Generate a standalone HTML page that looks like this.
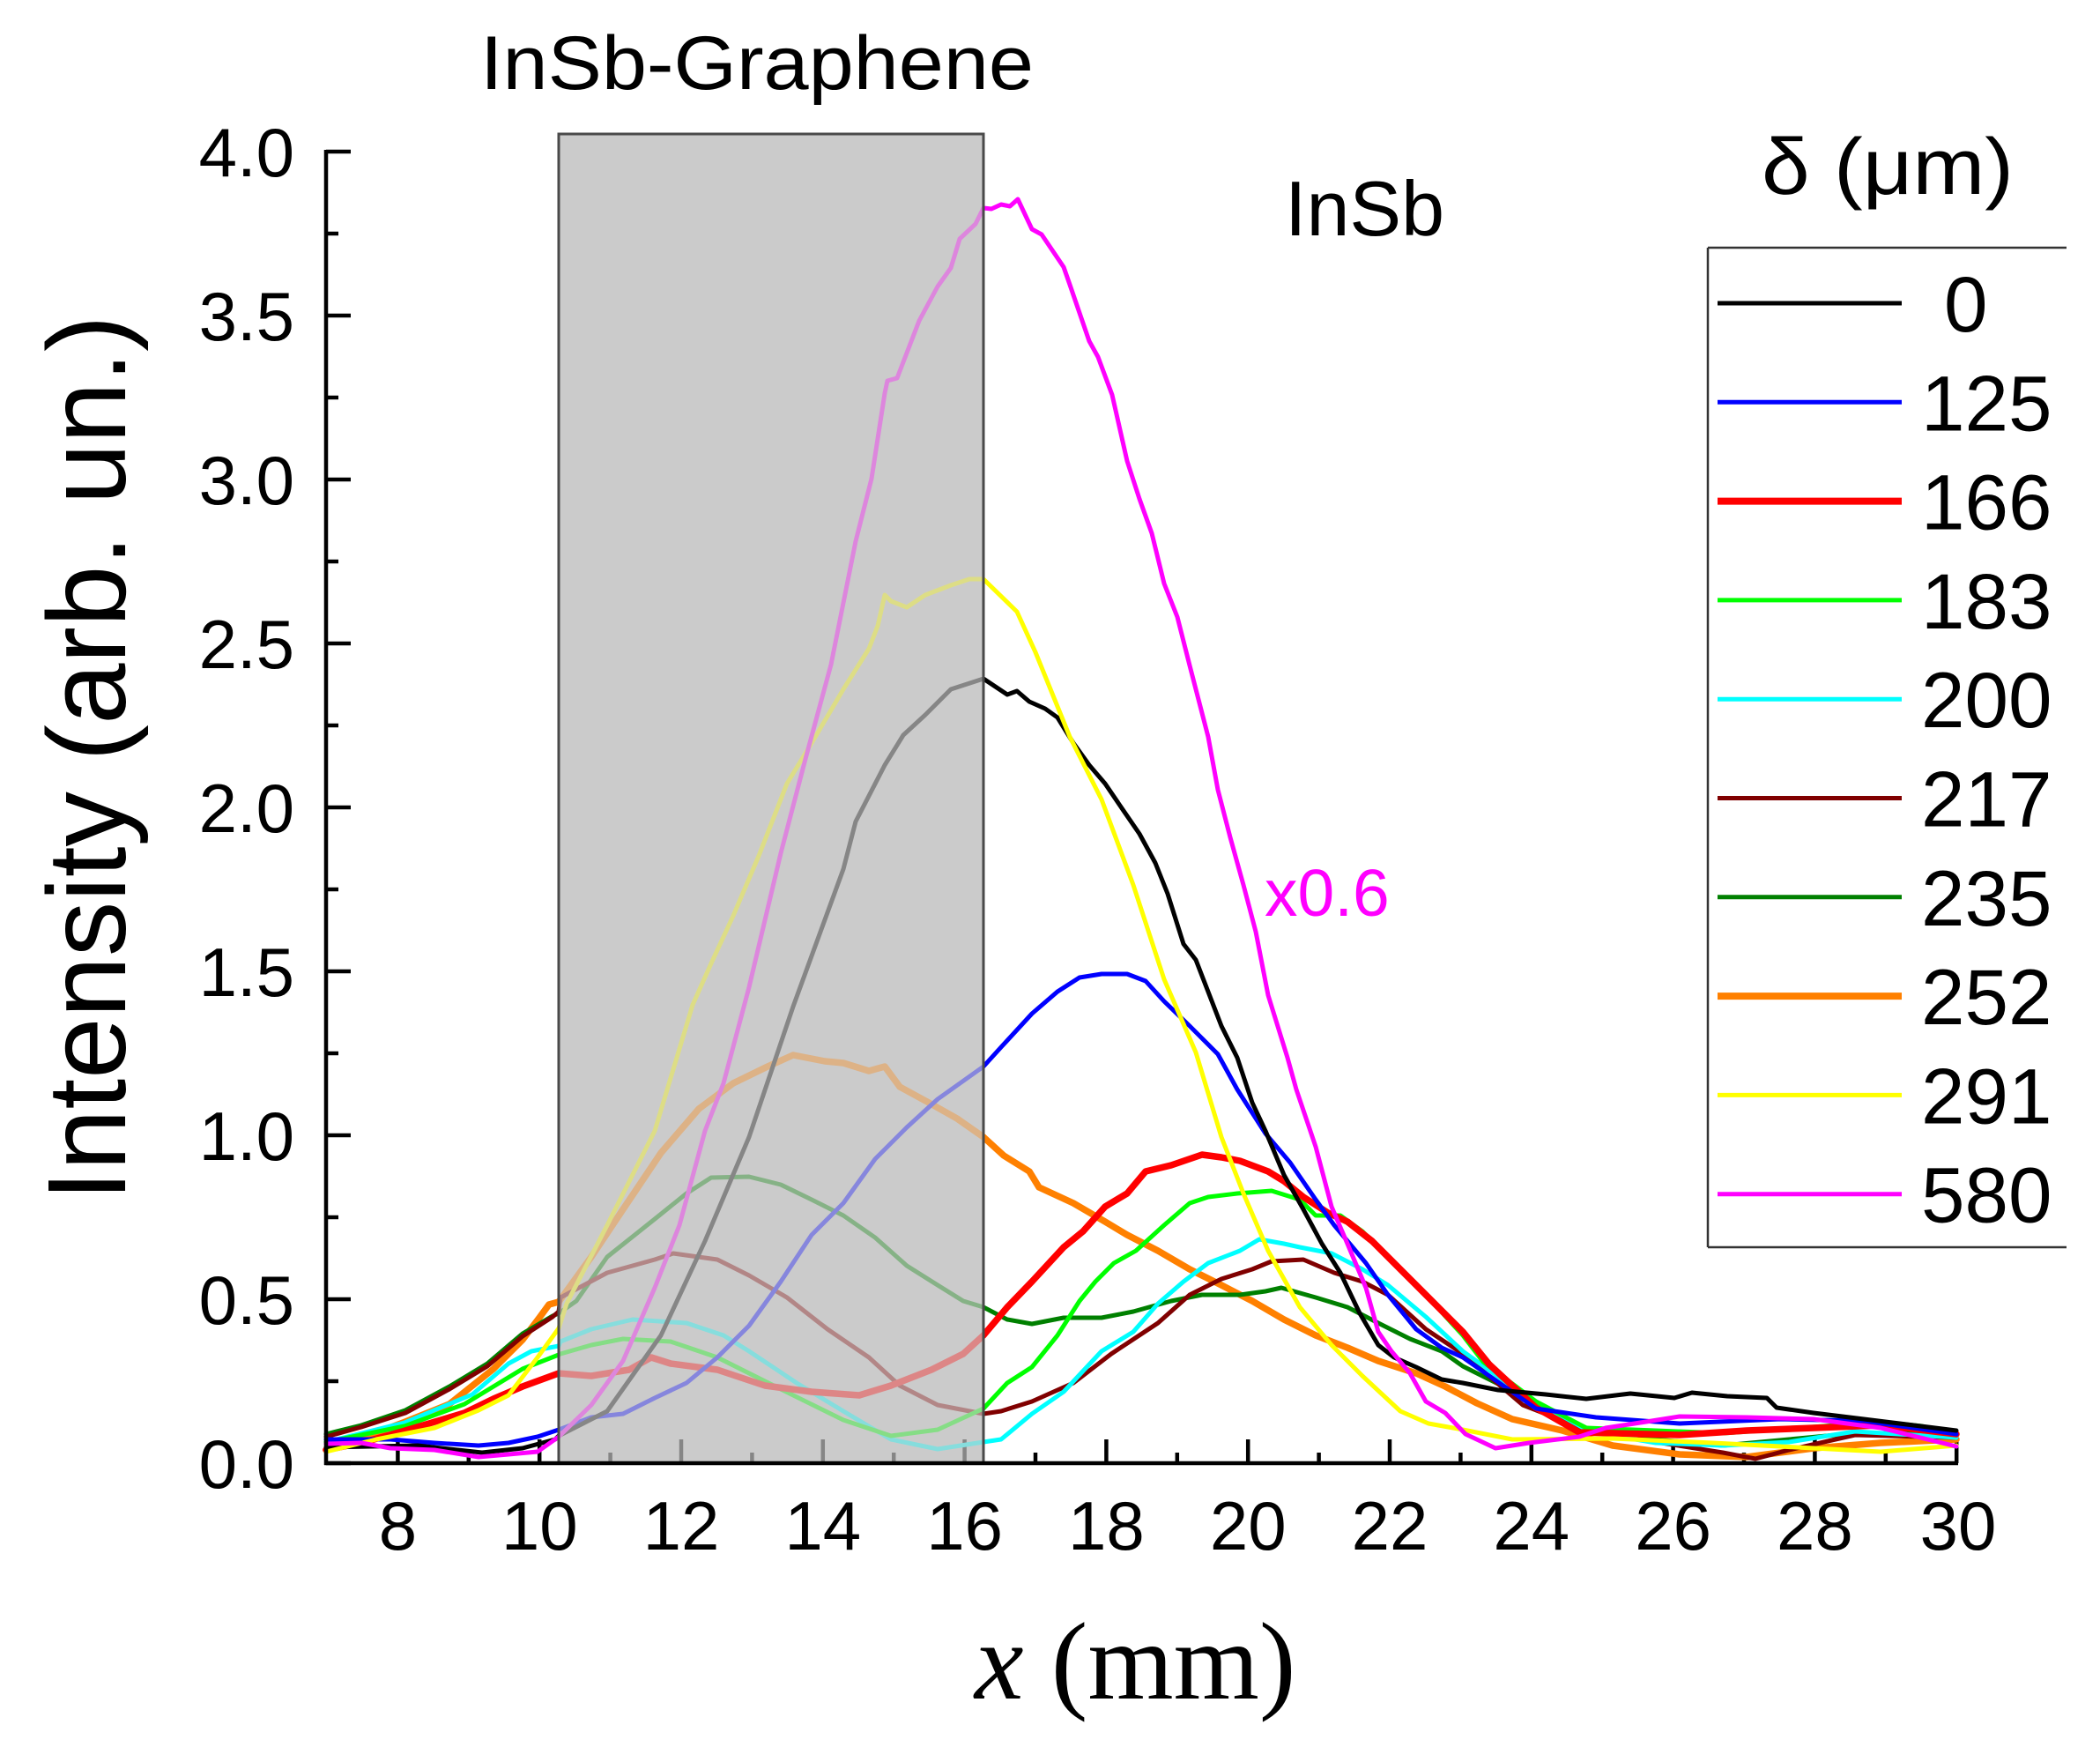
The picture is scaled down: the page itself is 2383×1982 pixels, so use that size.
<!DOCTYPE html>
<html>
<head>
<meta charset="utf-8">
<style>
  html, body { margin:0; padding:0; background:#ffffff; }
  svg { display:block; }
  text { font-family: "Liberation Sans", Arial, sans-serif; fill:#000; }
</style>
</head>
<body>
<svg width="2383" height="1982" viewBox="0 0 2383 1982" xmlns="http://www.w3.org/2000/svg">
  <rect x="0" y="0" width="2383" height="1982" fill="#ffffff"/>

  <!-- shaded region background -->
  <rect x="634" y="152" width="482" height="1508" fill="#cbcbcb"/>

  <!-- ticks (y axis, pointing inward) -->
  <g stroke="#000" stroke-width="4.5">
    <line x1="370" y1="1660" x2="398" y2="1660"/>
    <line x1="370" y1="1474" x2="398" y2="1474"/>
    <line x1="370" y1="1288" x2="398" y2="1288"/>
    <line x1="370" y1="1102" x2="398" y2="1102"/>
    <line x1="370" y1="916" x2="398" y2="916"/>
    <line x1="370" y1="730" x2="398" y2="730"/>
    <line x1="370" y1="544" x2="398" y2="544"/>
    <line x1="370" y1="358" x2="398" y2="358"/>
    <line x1="370" y1="172" x2="398" y2="172"/>
    <line x1="370" y1="1567" x2="384" y2="1567"/>
    <line x1="370" y1="1381" x2="384" y2="1381"/>
    <line x1="370" y1="1195" x2="384" y2="1195"/>
    <line x1="370" y1="1009" x2="384" y2="1009"/>
    <line x1="370" y1="823" x2="384" y2="823"/>
    <line x1="370" y1="637" x2="384" y2="637"/>
    <line x1="370" y1="451" x2="384" y2="451"/>
    <line x1="370" y1="265" x2="384" y2="265"/>
  </g>
  <!-- x ticks -->
  <g stroke="#000" stroke-width="4.5">
    <line x1="451.4" y1="1660" x2="451.4" y2="1633"/>
    <line x1="612.2" y1="1660" x2="612.2" y2="1633"/>
    <line x1="773" y1="1660" x2="773" y2="1633"/>
    <line x1="933.8" y1="1660" x2="933.8" y2="1633"/>
    <line x1="1094.6" y1="1660" x2="1094.6" y2="1633"/>
    <line x1="1255.4" y1="1660" x2="1255.4" y2="1633"/>
    <line x1="1416.2" y1="1660" x2="1416.2" y2="1633"/>
    <line x1="1577" y1="1660" x2="1577" y2="1633"/>
    <line x1="1737.8" y1="1660" x2="1737.8" y2="1633"/>
    <line x1="1898.6" y1="1660" x2="1898.6" y2="1633"/>
    <line x1="2059.4" y1="1660" x2="2059.4" y2="1633"/>
    <line x1="2220.2" y1="1660" x2="2220.2" y2="1633"/>
    <line x1="531.8" y1="1660" x2="531.8" y2="1648"/>
    <line x1="692.6" y1="1660" x2="692.6" y2="1648"/>
    <line x1="853.4" y1="1660" x2="853.4" y2="1648"/>
    <line x1="1014.2" y1="1660" x2="1014.2" y2="1648"/>
    <line x1="1175" y1="1660" x2="1175" y2="1648"/>
    <line x1="1335.8" y1="1660" x2="1335.8" y2="1648"/>
    <line x1="1496.6" y1="1660" x2="1496.6" y2="1648"/>
    <line x1="1657.4" y1="1660" x2="1657.4" y2="1648"/>
    <line x1="1818.2" y1="1660" x2="1818.2" y2="1648"/>
    <line x1="1979" y1="1660" x2="1979" y2="1648"/>
    <line x1="2139.8" y1="1660" x2="2139.8" y2="1648"/>
  </g>

  <!-- data curves -->
  <g fill="none" stroke-linejoin="round" stroke-linecap="round">
    <!-- 252 orange -->
    <polyline stroke="#ff8000" stroke-width="7.5" points="370,1645 410,1632 460,1613 510,1593 560,1553 593,1520 612,1495 623,1480 634,1477 671,1426 707,1372 750,1308 793,1258 832,1229 871,1210 900,1197 936,1204 957,1206 986,1215 1004,1210 1021,1233 1054,1251 1086,1269 1116,1290 1139,1311 1168,1329 1179,1347 1218,1365 1254,1386 1279,1401 1314,1419 1350,1440 1386,1458 1421,1476 1457,1497 1493,1515 1529,1529 1564,1544 1607,1558 1640,1573 1676,1592 1716,1610 1773,1623 1830,1640 1906,1650 1982,1653 2058,1643 2134,1637 2220,1633"/>
    <!-- 235 dark green -->
    <polyline stroke="#008000" stroke-width="5" points="370,1627 410,1617 460,1600 510,1573 553,1547 593,1513 627,1493 634,1490 654,1476 689,1426 743,1383 779,1354 807,1336 850,1335 886,1344 921,1361 957,1379 993,1404 1029,1436 1064,1458 1093,1476 1116,1483 1143,1497 1171,1502 1207,1495 1250,1495 1286,1488 1329,1476 1364,1469 1407,1469 1436,1465 1454,1461 1493,1472 1529,1483 1564,1501 1600,1519 1636,1533 1660,1550 1728,1584 1800,1620 1879,1633 1955,1640 2030,1633 2105,1626 2220,1626"/>
    <!-- 217 dark red -->
    <polyline stroke="#800000" stroke-width="5" points="370,1630 410,1619 460,1603 510,1576 553,1550 593,1516 627,1494 634,1488 636,1472 657,1461 689,1444 743,1429 764,1422 814,1429 850,1447 893,1472 939,1508 986,1540 1021,1572 1064,1594 1116,1604 1136,1601 1171,1590 1218,1569 1261,1536 1314,1501 1350,1469 1386,1451 1421,1440 1443,1431 1479,1429 1514,1444 1546,1454 1575,1469 1618,1508 1660,1536 1728,1594 1800,1622 1879,1636 1955,1648 1992,1655 2030,1645 2105,1628 2220,1631"/>
    <!-- 200 cyan -->
    <polyline stroke="#00ffff" stroke-width="5" points="370,1636 459,1614 536,1582 577,1547 603,1533 634,1527 636,1522 671,1508 718,1497 779,1501 821,1515 850,1533 904,1569 957,1601 1011,1633 1064,1644 1116,1636 1136,1633 1171,1604 1207,1579 1250,1533 1286,1511 1314,1479 1343,1454 1371,1433 1407,1419 1429,1406 1457,1411 1475,1415 1511,1422 1546,1440 1575,1458 1618,1494 1660,1533 1728,1582 1804,1624 1879,1637 1955,1640 2030,1636 2105,1624 2220,1631"/>
    <!-- 183 green -->
    <polyline stroke="#00ff00" stroke-width="5" points="370,1636 459,1618 527,1593 560,1573 593,1553 634,1537 636,1536 671,1526 707,1519 761,1522 814,1540 886,1576 957,1611 1011,1629 1064,1622 1116,1598 1143,1569 1171,1551 1200,1515 1225,1476 1243,1454 1264,1433 1289,1419 1321,1390 1350,1365 1371,1358 1404,1354 1443,1351 1475,1361 1493,1379 1521,1379 1546,1397 1582,1433 1618,1469 1660,1515 1683,1545 1743,1590 1800,1620 1879,1623 1955,1626 2030,1621 2134,1613 2181,1618 2220,1627"/>
    <!-- 166 red -->
    <polyline stroke="#ff0000" stroke-width="7.5" points="370,1645 410,1637 460,1623 527,1603 560,1587 593,1573 634,1558 671,1561 714,1554 739,1540 761,1547 814,1554 868,1572 921,1579 975,1583 1011,1572 1057,1554 1093,1536 1116,1515 1143,1483 1171,1454 1207,1415 1229,1397 1254,1369 1279,1354 1300,1329 1329,1322 1364,1310 1386,1313 1407,1317 1439,1329 1457,1340 1479,1358 1507,1376 1529,1386 1557,1408 1582,1433 1618,1469 1660,1511 1690,1548 1743,1597 1792,1625 1906,1628 1982,1623 2058,1620 2134,1617 2220,1627"/>
    <!-- 125 blue -->
    <polyline stroke="#0000ff" stroke-width="5" points="370,1633 443,1633 493,1637 543,1640 577,1637 610,1630 634,1622 671,1608 707,1604 743,1586 779,1569 814,1540 850,1504 886,1454 921,1401 957,1365 993,1315 1029,1279 1064,1247 1116,1210 1136,1188 1171,1150 1200,1125 1225,1109 1250,1105 1279,1105 1300,1113 1321,1136 1350,1164 1382,1196 1404,1236 1436,1286 1464,1319 1493,1361 1514,1390 1550,1433 1575,1469 1607,1508 1636,1529 1660,1540 1743,1598 1811,1608 1906,1615 2020,1610 2115,1612 2220,1627"/>
    <!-- 0 black -->
    <polyline stroke="#000000" stroke-width="5" points="370,1642 474,1640 547,1648 593,1643 630,1633 634,1629 689,1601 750,1515 800,1408 850,1290 900,1142 957,986 971,932 1004,868 1025,834 1050,811 1079,782 1116,770 1143,788 1154,784 1168,796 1186,804 1200,814 1218,843 1236,868 1254,889 1271,914 1293,946 1311,979 1325,1014 1343,1071 1357,1089 1386,1164 1404,1200 1421,1251 1436,1283 1457,1333 1479,1372 1500,1411 1521,1444 1543,1490 1564,1526 1582,1540 1607,1551 1636,1565 1660,1569 1700,1577 1754,1582 1800,1587 1850,1581 1900,1586 1920,1580 1960,1584 2005,1586 2016,1597 2058,1603 2115,1610 2220,1623"/>
    <!-- 291 yellow -->
    <polyline stroke="#ffff00" stroke-width="5" points="370,1647 427,1633 493,1620 543,1600 577,1583 610,1540 634,1507 643,1479 689,1390 743,1283 786,1140 807,1093 832,1039 861,971 893,889 921,843 957,782 986,736 996,710 1004,675 1011,682 1029,689 1050,675 1079,664 1100,657 1116,657 1154,694 1175,740 1214,836 1250,907 1286,1004 1321,1111 1357,1194 1386,1290 1411,1354 1439,1419 1475,1483 1511,1526 1546,1561 1589,1601 1621,1615 1660,1622 1716,1633 1830,1632 1944,1637 2058,1643 2134,1647 2220,1640"/>
    <!-- 580 magenta -->
    <polyline stroke="#ff00ff" stroke-width="5" points="370,1638 410,1637 443,1643 493,1645 543,1653 577,1650 610,1647 634,1630 671,1594 707,1544 743,1461 771,1390 800,1283 821,1229 850,1120 886,968 914,861 943,754 971,614 989,543 1004,446 1007,432 1018,429 1043,364 1064,325 1079,304 1089,271 1107,254 1116,236 1125,237 1136,232 1146,234 1155,226 1171,260 1182,266 1207,303 1214,323 1236,387 1246,405 1262,448 1279,523 1293,566 1307,605 1321,662 1336,700 1350,755 1371,836 1382,896 1396,950 1411,1004 1425,1057 1439,1129 1461,1200 1471,1236 1493,1301 1511,1369 1529,1411 1550,1461 1564,1511 1579,1533 1600,1558 1618,1590 1640,1603 1663,1627 1697,1643 1735,1637 1792,1630 1822,1620 1868,1613 1906,1607 1982,1608 2058,1610 2134,1620 2220,1641"/>
  </g>

  <!-- dimming overlay on the shaded region -->
  <rect x="634" y="152" width="482" height="1508" fill="#cbcbcb" fill-opacity="0.66"/>
  <rect x="634" y="152" width="482" height="1508" fill="none" stroke="#4a4a4a" stroke-width="3"/>

  <!-- axes -->
  <line x1="370" y1="170" x2="370" y2="1662" stroke="#000" stroke-width="4.5"/>
  <line x1="368" y1="1660" x2="2222" y2="1660" stroke="#000" stroke-width="4.5"/>

  <!-- y tick labels -->
  <g font-size="78" text-anchor="end">
    <text x="334" y="1688">0.0</text>
    <text x="334" y="1502">0.5</text>
    <text x="334" y="1316">1.0</text>
    <text x="334" y="1130">1.5</text>
    <text x="334" y="944">2.0</text>
    <text x="334" y="758">2.5</text>
    <text x="334" y="572">3.0</text>
    <text x="334" y="386">3.5</text>
    <text x="334" y="200">4.0</text>
  </g>
  <!-- x tick labels -->
  <g font-size="78" text-anchor="middle">
    <text x="451.4" y="1758">8</text>
    <text x="612.2" y="1758">10</text>
    <text x="773" y="1758">12</text>
    <text x="933.8" y="1758">14</text>
    <text x="1094.6" y="1758">16</text>
    <text x="1255.4" y="1758">18</text>
    <text x="1416.2" y="1758">20</text>
    <text x="1577" y="1758">22</text>
    <text x="1737.8" y="1758">24</text>
    <text x="1898.6" y="1758">26</text>
    <text x="2059.4" y="1758">28</text>
    <text x="2222" y="1758">30</text>
  </g>

  <!-- axis titles -->
  <text transform="translate(142,860) rotate(-90)" text-anchor="middle" font-size="126" textLength="1005" lengthAdjust="spacingAndGlyphs">Intensity (arb. un.)</text>
  <text x="1106" y="1927" font-size="125" style="font-family:'Liberation Serif','Times New Roman',serif;"><tspan font-style="italic">x</tspan> (mm)</text>

  <!-- annotations -->
  <text x="545" y="101" font-size="86" textLength="628" lengthAdjust="spacingAndGlyphs">InSb-Graphene</text>
  <text x="1458" y="267" font-size="88">InSb</text>
  <text x="1435" y="1039" font-size="75" style="fill:#ff00ff">x0.6</text>

  <!-- legend -->
  <text x="1999" y="220" font-size="90" textLength="286" lengthAdjust="spacingAndGlyphs">δ (μm)</text>
  <g stroke="#333" stroke-width="2.5" fill="none">
    <line x1="1938" y1="281" x2="2345" y2="281"/>
    <line x1="1938" y1="281" x2="1938" y2="1415"/>
    <line x1="1938" y1="1415" x2="2345" y2="1415"/>
  </g>
  <g stroke-linecap="butt">
    <line x1="1949" y1="344" x2="2158" y2="344" stroke="#000000" stroke-width="5"/>
    <line x1="1949" y1="456.3" x2="2158" y2="456.3" stroke="#0000ff" stroke-width="5"/>
    <line x1="1949" y1="568.6" x2="2158" y2="568.6" stroke="#ff0000" stroke-width="8"/>
    <line x1="1949" y1="680.9" x2="2158" y2="680.9" stroke="#00ff00" stroke-width="5"/>
    <line x1="1949" y1="793.2" x2="2158" y2="793.2" stroke="#00ffff" stroke-width="5"/>
    <line x1="1949" y1="905.5" x2="2158" y2="905.5" stroke="#800000" stroke-width="5"/>
    <line x1="1949" y1="1017.8" x2="2158" y2="1017.8" stroke="#008000" stroke-width="5"/>
    <line x1="1949" y1="1130.1" x2="2158" y2="1130.1" stroke="#ff8000" stroke-width="8"/>
    <line x1="1949" y1="1242.4" x2="2158" y2="1242.4" stroke="#ffff00" stroke-width="5"/>
    <line x1="1949" y1="1354.7" x2="2158" y2="1354.7" stroke="#ff00ff" stroke-width="5"/>
  </g>
  <g font-size="89">
    <text x="2206" y="376">0</text>
    <text x="2180" y="488.3">125</text>
    <text x="2180" y="600.6">166</text>
    <text x="2180" y="712.9">183</text>
    <text x="2180" y="825.2">200</text>
    <text x="2180" y="937.5">217</text>
    <text x="2180" y="1049.8">235</text>
    <text x="2180" y="1162.1">252</text>
    <text x="2180" y="1274.4">291</text>
    <text x="2180" y="1386.7">580</text>
  </g>
</svg>
</body>
</html>
